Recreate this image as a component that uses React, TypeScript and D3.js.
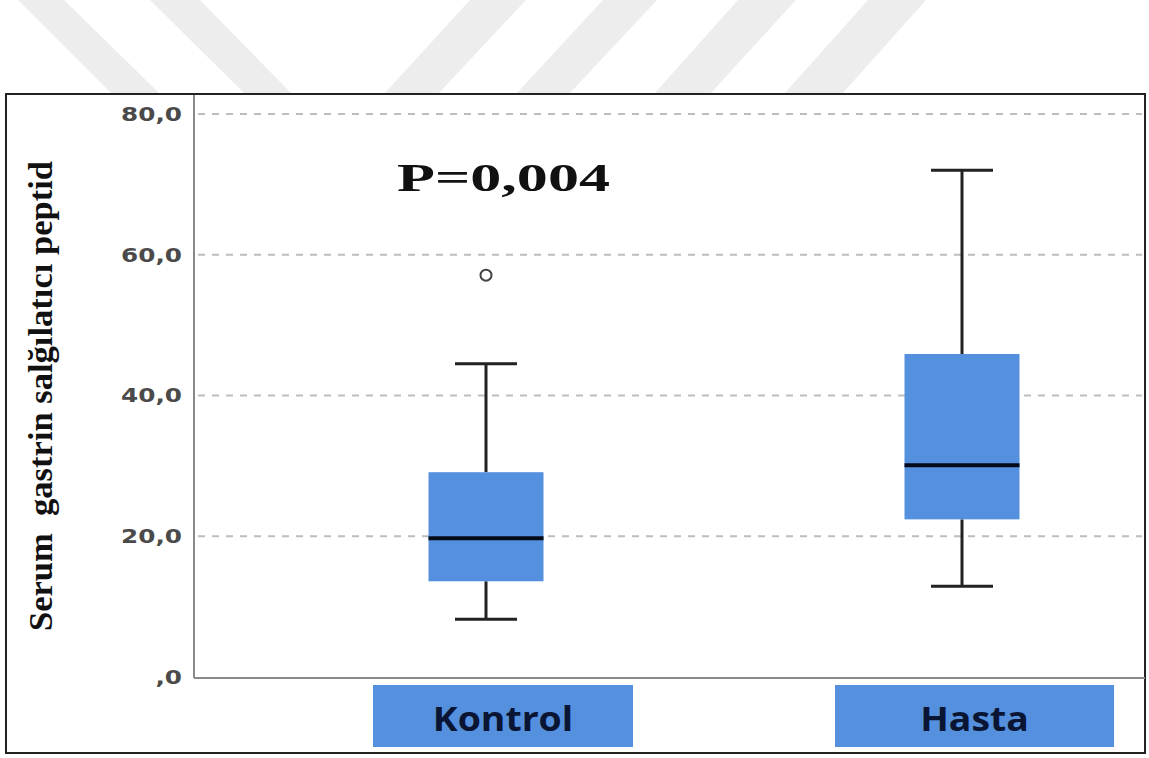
import React from "react";
import * as d3 from "d3";

const categories = ["Kontrol", "Hasta"];
const whiskerLow = [8.2, 12.9];
const q1 = [13.6, 22.4];
const median = [19.7, 30.1];
const q3 = [29.1, 45.9];
const whiskerHigh = [44.5, 72.0];
const outliers = [[57.1], []];
const yTicks = [0, 20, 40, 60, 80];
const yTickLabels = [",0", "20,0", "40,0", "60,0", "80,0"];
const yTitle = "Serum  gastrin salğılatıcı peptid";
const annotation = "P=0,004";

const W = 1149;
const H = 758;
const plot = { left: 194, right: 1145, top: 95, bottom: 678 };
const boxColor = "#5490de";
const labelOffsets: Record<string, [number, number]> = {
  Kontrol: [-113, 147],
  Hasta: [-127, 152],
};

// watermark stripes (decorative)
const stripes = [
  [[18, 0], [64, 0], [160, 94], [112, 94]],
  [[150, 0], [200, 0], [292, 94], [245, 94]],
  [[470, 0], [526, 0], [438, 94], [384, 94]],
  [[603, 0], [657, 0], [569, 94], [516, 94]],
  [[738, 0], [796, 0], [710, 94], [654, 94]],
  [[868, 0], [926, 0], [842, 94], [784, 94]],
];

export default function App() {
  const y = d3.scaleLinear().domain([0, 80]).range([plot.bottom - 1, 114]);
  const x = d3.scalePoint<string>().domain(categories).range([486, 962]);
  const boxW = 115;
  const capW = 62;
  const line = d3.line();

  return (
    <svg
      width={W}
      height={H}
      style={{ position: "absolute", left: 0, top: 0, background: "#fff" }}
    >
      {stripes.map((s, i) => (
        <path key={i} d={line(s as [number, number][])! + "Z"} fill="#ededed" />
      ))}
      <rect x={6} y={94} width={1139} height={659} fill="#fff" stroke="#222" strokeWidth={2} />

      {/* grid */}
      {yTicks.filter((t) => t > 0).map((t) => (
        <line
          key={t}
          x1={plot.left + 4}
          x2={plot.right - 3}
          y1={y(t)}
          y2={y(t)}
          stroke="#bdbdbd"
          strokeWidth={2}
          strokeDasharray="7 7"
        />
      ))}

      {/* axes */}
      <line x1={plot.left} x2={plot.left} y1={plot.top} y2={plot.bottom} stroke="#8a8a8a" strokeWidth={2} />
      <line x1={plot.left} x2={plot.right} y1={plot.bottom} y2={plot.bottom} stroke="#8a8a8a" strokeWidth={2} />

      {/* y tick labels */}
      {yTicks.map((t, i) => (
        <text
          key={t}
          transform={`translate(182,${y(t)}) scale(1.3,1)`}
          dy="0.36em"
          textAnchor="end"
          fontFamily="'DejaVu Sans', sans-serif"
          fontWeight="bold"
          fontSize={19}
          fill="#4a4a4a"
        >
          {yTickLabels[i]}
        </text>
      ))}

      {/* y title */}
      <text
        transform="translate(52,396) scale(1.15,1) rotate(-90)"
        textAnchor="middle"
        fontFamily="'Liberation Serif', 'Times New Roman', serif"
        fontWeight="bold"
        fontSize={30}
        fill="#111"
        textLength={470}
        lengthAdjust="spacingAndGlyphs"
        style={{ whiteSpace: "pre" }}
      >
        {yTitle}
      </text>

      {/* annotation */}
      <text
        x={397}
        y={191}
        fontFamily="'Liberation Serif', 'Times New Roman', serif"
        fontWeight="bold"
        fontSize={40}
        fill="#111"
        textLength={213}
        lengthAdjust="spacingAndGlyphs"
      >
        {annotation}
      </text>

      {/* boxes */}
      {categories.map((c, i) => {
        const cx = x(c)!;
        return (
          <g key={c}>
            <line x1={cx} x2={cx} y1={y(whiskerHigh[i])} y2={y(q3[i])} stroke="#222" strokeWidth={3} />
            <line x1={cx} x2={cx} y1={y(q1[i])} y2={y(whiskerLow[i])} stroke="#222" strokeWidth={3} />
            <line x1={cx - capW / 2} x2={cx + capW / 2} y1={y(whiskerHigh[i])} y2={y(whiskerHigh[i])} stroke="#222" strokeWidth={3} />
            <line x1={cx - capW / 2} x2={cx + capW / 2} y1={y(whiskerLow[i])} y2={y(whiskerLow[i])} stroke="#222" strokeWidth={3} />
            <rect
              x={cx - boxW / 2}
              y={y(q3[i])}
              width={boxW}
              height={y(q1[i]) - y(q3[i])}
              fill={boxColor}
            />
            <line x1={cx - boxW / 2} x2={cx + boxW / 2} y1={y(median[i])} y2={y(median[i])} stroke="#050a18" strokeWidth={4} />
            {outliers[i].map((o, j) => (
              <circle key={j} cx={cx} cy={y(o)} r={5.5} fill="#fff" stroke="#444" strokeWidth={2} />
            ))}
          </g>
        );
      })}

      {/* category labels */}
      {categories.map((c) => {
        const cx = x(c)!;
        const [a, b] = labelOffsets[c];
        return (
          <g key={c}>
            <rect x={cx + a} y={685} width={b - a} height={62} fill={boxColor} />
            <text
              transform={`translate(${cx + (a + b) / 2},731) scale(1.1,1)`}
              textAnchor="middle"
              fontFamily="'Open Sans', sans-serif"
              fontWeight="bold"
              fontSize={34}
              fill="#0a1534"
            >
              {c}
            </text>
          </g>
        );
      })}
    </svg>
  );
}
